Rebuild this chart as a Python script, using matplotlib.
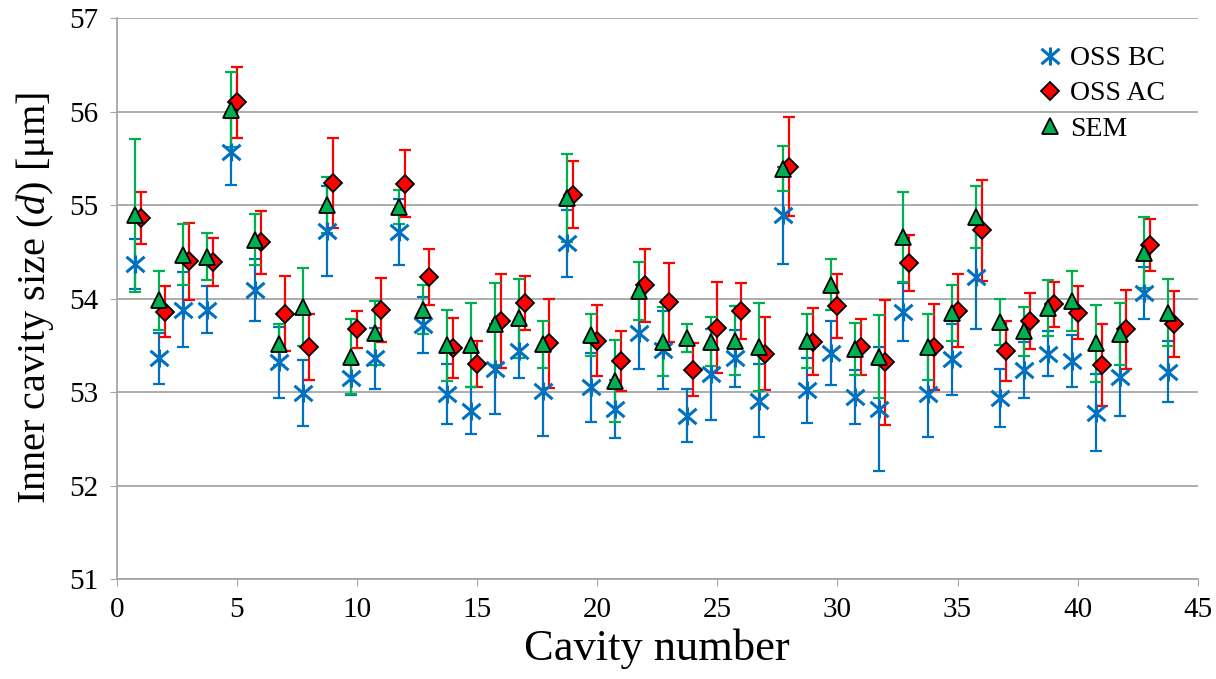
import numpy as np
import matplotlib
matplotlib.use('Agg')
import matplotlib.pyplot as plt
from matplotlib.path import Path

plt.rcParams['font.family'] = ['Liberation Serif', 'DejaVu Serif']
plt.rcParams['mathtext.fontset'] = 'custom'
plt.rcParams['mathtext.it'] = 'Liberation Serif:italic'
plt.rcParams['mathtext.rm'] = 'Liberation Serif'

# cavity numbers
cavity = np.arange(1, 45)

# OSS before correction
bc = [54.37, 53.36, 53.88, 53.88, 55.57, 54.09, 53.32, 52.99, 54.72, 53.15,
      53.36, 54.71, 53.72, 52.98, 52.80, 53.25, 53.44, 53.01, 54.59, 53.05,
      52.82, 53.63, 53.45, 52.75, 53.19, 53.36, 52.91, 54.89, 53.02, 53.42,
      52.95, 52.82, 53.86, 52.98, 53.35, 54.23, 52.94, 53.24, 53.41, 53.33,
      52.78, 53.16, 54.06, 53.22]
bc_err = [0.27, 0.27, 0.40, 0.25, 0.36, 0.33, 0.38, 0.35, 0.48, 0.18,
          0.33, 0.35, 0.30, 0.32, 0.25, 0.48, 0.29, 0.48, 0.36, 0.37,
          0.31, 0.38, 0.42, 0.28, 0.49, 0.30, 0.39, 0.52, 0.35, 0.34,
          0.29, 0.66, 0.31, 0.46, 0.38, 0.56, 0.31, 0.30, 0.24, 0.28,
          0.41, 0.42, 0.28, 0.33]

# OSS after correction
ac = [54.86, 53.86, 54.40, 54.39, 56.10, 54.60, 53.84, 53.48, 55.24, 53.67,
      53.88, 55.23, 54.23, 53.47, 53.30, 53.76, 53.95, 53.52, 55.11, 53.55,
      53.33, 54.14, 53.96, 53.24, 53.69, 53.87, 53.41, 55.41, 53.54, 53.92,
      53.48, 53.32, 54.38, 53.48, 53.87, 54.73, 53.44, 53.76, 53.94, 53.85,
      53.29, 53.67, 54.57, 53.73]
ac_err = [0.28, 0.27, 0.41, 0.26, 0.38, 0.34, 0.40, 0.35, 0.48, 0.20,
          0.34, 0.36, 0.30, 0.32, 0.25, 0.50, 0.29, 0.48, 0.36, 0.38,
          0.32, 0.39, 0.42, 0.28, 0.49, 0.30, 0.39, 0.53, 0.36, 0.34,
          0.30, 0.67, 0.30, 0.46, 0.39, 0.54, 0.32, 0.30, 0.24, 0.28,
          0.44, 0.42, 0.28, 0.35]

# SEM reference
sem = [54.89, 53.98, 54.47, 54.45, 56.02, 54.63, 53.51, 53.91, 55.00, 53.38,
       53.63, 54.98, 53.88, 53.50, 53.50, 53.73, 53.79, 53.51, 55.08, 53.61,
       53.12, 54.08, 53.54, 53.58, 53.54, 53.55, 53.48, 55.39, 53.55, 54.15,
       53.46, 53.38, 54.66, 53.48, 53.85, 54.87, 53.75, 53.65, 53.90, 53.97,
       53.52, 53.62, 54.49, 53.85]
sem_err = [0.82, 0.32, 0.33, 0.25, 0.40, 0.27, 0.22, 0.42, 0.30, 0.40,
           0.34, 0.18, 0.26, 0.38, 0.45, 0.44, 0.42, 0.25, 0.47, 0.22,
           0.44, 0.31, 0.37, 0.15, 0.26, 0.37, 0.47, 0.24, 0.29, 0.27,
           0.28, 0.44, 0.48, 0.35, 0.30, 0.33, 0.25, 0.26, 0.30, 0.32,
           0.41, 0.33, 0.38, 0.36]

assert len(bc) == len(ac) == len(sem) == len(cavity)

blue = '#0070C0'
red = '#FF0000'
green = '#00B050'

# asterisk marker (x plus vertical bar)
star = Path([(-1, -0.85), (1, 0.85), (-1, 0.85), (1, -0.85), (0, -1), (0, 1)],
            [Path.MOVETO, Path.LINETO, Path.MOVETO, Path.LINETO, Path.MOVETO, Path.LINETO])

fig = plt.figure(figsize=(12.16, 6.79), dpi=100)
ax = fig.add_axes([0.096, 0.147, 0.889, 0.8265])

x_bc = cavity - 0.25
x_sem = cavity - 0.25
x_ac = cavity

ax.errorbar(x_bc, bc, yerr=bc_err, fmt='none', ecolor=blue, elinewidth=1.6,
            capsize=4, capthick=1.6, zorder=3)
ax.plot(x_bc, bc, linestyle='none', marker=star, markersize=13, markeredgewidth=2.2,
        color=blue, label='OSS BC', zorder=4)

ax.errorbar(x_ac, ac, yerr=ac_err, fmt='none', ecolor=red, elinewidth=1.6,
            capsize=4, capthick=1.6, zorder=3)
ax.plot(x_ac, ac, linestyle='none', marker='D', markersize=9, markerfacecolor=red,
        markeredgecolor='black', markeredgewidth=1.3, label='OSS AC', zorder=4)

ax.errorbar(x_sem, sem, yerr=sem_err, fmt='none', ecolor=green, elinewidth=1.6,
            capsize=4, capthick=1.6, zorder=3)
ax.plot(x_sem, sem, linestyle='none', marker='^', markersize=12, markerfacecolor=green,
        markeredgecolor='black', markeredgewidth=1.3, label='SEM', zorder=5)

ax.set_xlim(0, 45)
ax.set_ylim(51, 57)
ax.set_xticks(np.arange(0, 46, 5))
ax.set_yticks(np.arange(51, 58, 1))
ax.yaxis.grid(True, color='#a6a6a6', linewidth=1.3)
ax.set_axisbelow(True)

for s in ['top', 'right']:
    ax.spines[s].set_visible(False)
for s in ['left', 'bottom']:
    ax.spines[s].set_color('#a6a6a6')
    ax.spines[s].set_linewidth(1.3)
ax.tick_params(axis='both', direction='out', length=5, color='#a6a6a6',
               labelsize=21, pad=8)

ax.set_xlabel('Cavity number', fontsize=32, labelpad=4)
ax.set_ylabel(r'Inner cavity size ($\mathit{d}$) [μm]', fontsize=29, labelpad=10)

ax.legend(loc='upper right', bbox_to_anchor=(0.985, 0.98), frameon=False, fontsize=20,
          handletextpad=0.1, labelspacing=0.35, handlelength=1.2, borderaxespad=0.2)

fig.savefig('out.png', dpi=100)
